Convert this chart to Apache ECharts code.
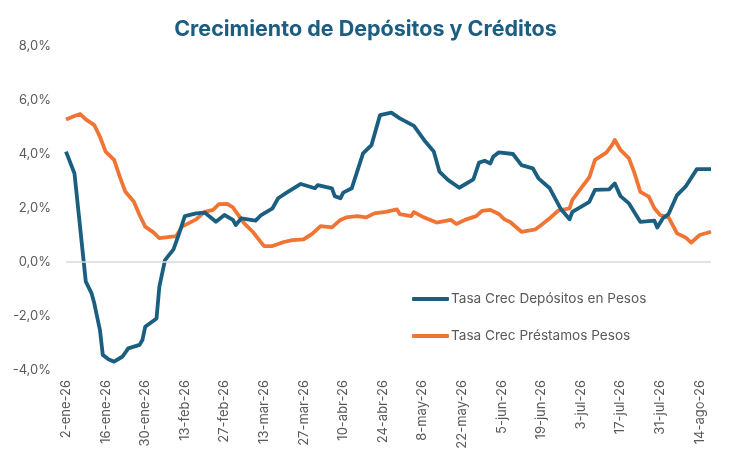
<!DOCTYPE html>
<html>
<head>
<meta charset="utf-8">
<script src="https://cdn.jsdelivr.net/npm/echarts@6/dist/echarts.min.js"></script>
<style>
  html, body { margin: 0; padding: 0; background: #fff; }
  #chart { width: 731px; height: 456px; }
</style>
</head>
<body>
<div id="chart"></div>
<script>
const inicio = '2026-01-02'
const fin = '2026-08-18'
const meses = ['ene', 'feb', 'mar', 'abr', 'may', 'jun', 'jul', 'ago', 'sep', 'oct', 'nov', 'dic']

const fechasDep = [
  '2026-01-02', '2026-01-05', '2026-01-09', '2026-01-11', '2026-01-12', '2026-01-14', '2026-01-15',
  '2026-01-17', '2026-01-19', '2026-01-22', '2026-01-24', '2026-01-28', '2026-01-29', '2026-01-30',
  '2026-02-03', '2026-02-04', '2026-02-06', '2026-02-09', '2026-02-11', '2026-02-13', '2026-02-17',
  '2026-02-20', '2026-02-24', '2026-02-27', '2026-03-02', '2026-03-03', '2026-03-05', '2026-03-10',
  '2026-03-12', '2026-03-16', '2026-03-18', '2026-03-21', '2026-03-26', '2026-03-31', '2026-04-01',
  '2026-04-06', '2026-04-07', '2026-04-09', '2026-04-10', '2026-04-13', '2026-04-17', '2026-04-20',
  '2026-04-23', '2026-04-27', '2026-04-30', '2026-05-05', '2026-05-09', '2026-05-12', '2026-05-14',
  '2026-05-17', '2026-05-21', '2026-05-26', '2026-05-28', '2026-05-30', '2026-06-01', '2026-06-02',
  '2026-06-04', '2026-06-09', '2026-06-12', '2026-06-16', '2026-06-18', '2026-06-22', '2026-06-26',
  '2026-06-29', '2026-06-30', '2026-07-06', '2026-07-08', '2026-07-13', '2026-07-15', '2026-07-17',
  '2026-07-20', '2026-07-24', '2026-07-29', '2026-07-30', '2026-08-01', '2026-08-03', '2026-08-06',
  '2026-08-09', '2026-08-13', '2026-08-18'
]
const depositos = [
  4.09, 3.28, -0.73, -1.15, -1.53, -2.52, -3.44,
  -3.60, -3.69, -3.50, -3.20, -3.07, -2.89, -2.40,
  -2.09, -0.91, 0.07, 0.47, 1.06, 1.70, 1.80,
  1.83, 1.49, 1.74, 1.56, 1.37, 1.62, 1.53,
  1.74, 1.99, 2.36, 2.57, 2.89, 2.73, 2.85,
  2.73, 2.44, 2.36, 2.57, 2.73, 4.02, 4.33,
  5.44, 5.53, 5.32, 5.04, 4.46, 4.09, 3.35,
  3.04, 2.75, 3.06, 3.68, 3.75, 3.65, 3.90,
  4.06, 4.00, 3.59, 3.47, 3.10, 2.73, 1.95,
  1.58, 1.86, 2.23, 2.67, 2.69, 2.91, 2.44,
  2.17, 1.49, 1.53, 1.28, 1.62, 1.78, 2.48,
  2.79, 3.44, 3.44
]

const fechasPres = [
  '2026-01-02', '2026-01-05', '2026-01-07', '2026-01-09', '2026-01-12', '2026-01-14', '2026-01-16',
  '2026-01-19', '2026-01-21', '2026-01-23', '2026-01-26', '2026-01-28', '2026-01-30', '2026-02-02',
  '2026-02-04', '2026-02-10', '2026-02-12', '2026-02-17', '2026-02-20', '2026-02-23', '2026-02-25',
  '2026-02-28', '2026-03-02', '2026-03-06', '2026-03-09', '2026-03-13', '2026-03-16', '2026-03-20',
  '2026-03-23', '2026-03-27', '2026-03-30', '2026-04-02', '2026-04-06', '2026-04-09', '2026-04-11',
  '2026-04-15', '2026-04-18', '2026-04-21', '2026-04-25', '2026-04-29', '2026-04-30', '2026-05-04',
  '2026-05-05', '2026-05-08', '2026-05-13', '2026-05-18', '2026-05-20', '2026-05-23', '2026-05-27',
  '2026-05-29', '2026-06-01', '2026-06-04', '2026-06-06', '2026-06-08', '2026-06-12', '2026-06-17',
  '2026-06-19', '2026-06-22', '2026-06-25', '2026-06-29', '2026-06-30', '2026-07-03', '2026-07-06',
  '2026-07-08', '2026-07-12', '2026-07-14', '2026-07-15', '2026-07-17', '2026-07-20', '2026-07-22',
  '2026-07-24', '2026-07-27', '2026-07-29', '2026-07-31', '2026-08-03', '2026-08-06', '2026-08-09',
  '2026-08-11', '2026-08-14', '2026-08-18'
]
const prestamos = [
  5.28, 5.41, 5.48, 5.28, 5.07, 4.64, 4.09,
  3.78, 3.16, 2.60, 2.23, 1.74, 1.31, 1.09,
  0.88, 0.96, 1.31, 1.58, 1.86, 1.93, 2.14,
  2.15, 2.02, 1.43, 1.12, 0.59, 0.59, 0.74,
  0.81, 0.84, 1.04, 1.33, 1.28, 1.56, 1.65,
  1.70, 1.65, 1.80, 1.86, 1.95, 1.77, 1.70,
  1.85, 1.68, 1.46, 1.56, 1.41, 1.56, 1.70,
  1.89, 1.93, 1.78, 1.58, 1.48, 1.12, 1.21,
  1.37, 1.62, 1.90, 1.99, 2.30, 2.73, 3.14,
  3.78, 4.05, 4.33, 4.52, 4.15, 3.84, 3.28,
  2.60, 2.42, 1.99, 1.74, 1.65, 1.06, 0.91,
  0.72, 1.00, 1.12
]

const DIA = 86400000
const t0 = Date.parse(inicio)
const diaIdx = f => Math.round((Date.parse(f) - t0) / DIA)

const etiquetaFecha = idx => {
  const d = new Date(t0 + idx * DIA)
  return `${d.getUTCDate()}-${meses[d.getUTCMonth()]}-${String(d.getUTCFullYear()).slice(2)}`
}

const pctLabel = v => v.toFixed(1).replace('.', ',') + '%'

const chart = echarts.init(document.getElementById('chart'))

const option = {
  backgroundColor: '#fff',
  textStyle: {
    fontFamily: 'Inter'
  },
  title: {
    text: 'Crecimiento de Depósitos y Créditos',
    left: 'center',
    top: 14,
    textStyle: {
      color: '#1B5E82',
      fontSize: 21.5,
      fontWeight: 'bold',
      fontFamily: 'Inter'
    }
  },
  legend: {
    orient: 'vertical',
    left: 407,
    top: 287,
    itemWidth: 37,
    itemHeight: 4,
    itemGap: 23,
    icon: 'roundRect',
    textStyle: {
      color: '#595959',
      fontSize: 13.6,
      padding: [0, 0, 0, -3]
    },
    data: ['Tasa Crec Depósitos en Pesos', 'Tasa Crec Préstamos Pesos']
  },
  grid: {
    left: 66,
    right: 20,
    top: 46,
    bottom: 86,
    containLabel: false
  },
  xAxis: {
    type: 'value',
    min: 0,
    max: diaIdx(fin),
    interval: 14,
    axisLine: { show: false },
    axisTick: { show: false },
    splitLine: { show: false },
    axisLabel: {
      rotate: 90,
      margin: 10,
      color: '#595959',
      fontSize: 13,
      showMaxLabel: false,
      formatter: etiquetaFecha
    }
  },
  yAxis: {
    type: 'value',
    min: -4,
    max: 8,
    interval: 2,
    axisLine: { show: false },
    axisTick: { show: false },
    splitLine: { show: false },
    axisLabel: {
      color: '#595959',
      fontSize: 13,
      margin: 15,
      formatter: pctLabel
    }
  },
  series: [
    {
      name: 'Tasa Crec Depósitos en Pesos',
      type: 'line',
      data: fechasDep.map((f, i) => [diaIdx(f), depositos[i]]),
      showSymbol: false,
      color: '#1A5E80',
      lineStyle: { width: 3.8, color: '#1A5E80', join: 'round' },
      markLine: {
        silent: true,
        symbol: 'none',
        label: { show: false },
        lineStyle: { color: '#D9D9D9', width: 1.5, type: 'solid' },
        data: [{ yAxis: 0 }]
      },
      z: 3
    },
    {
      name: 'Tasa Crec Préstamos Pesos',
      type: 'line',
      data: fechasPres.map((f, i) => [diaIdx(f), prestamos[i]]),
      showSymbol: false,
      color: '#F07534',
      lineStyle: { width: 3.8, color: '#F07534', join: 'round' },
      z: 2
    }
  ]
}

chart.setOption(option)
</script>
</body>
</html>
